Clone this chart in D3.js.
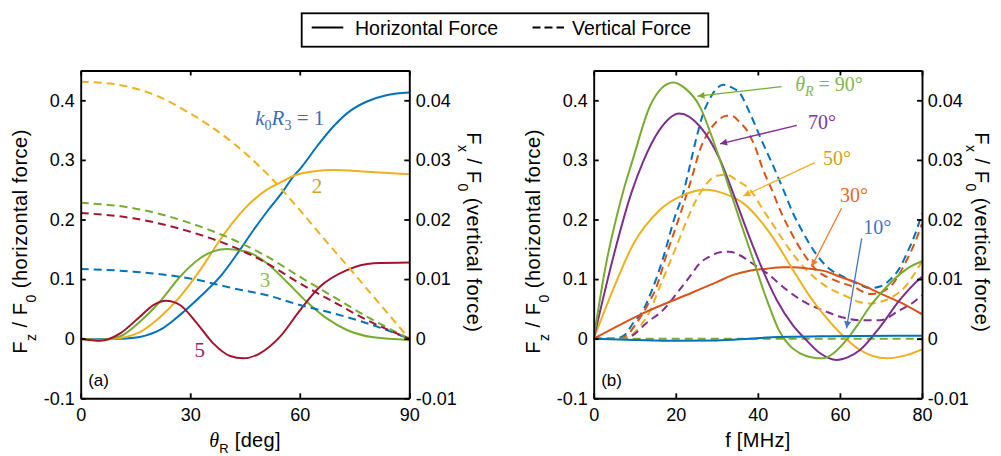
<!DOCTYPE html>
<html>
<head>
<meta charset="utf-8">
<script src="https://cdn.jsdelivr.net/npm/d3@7"></script>
<style>
  body { margin: 0; background: #fff; }
  svg { display: block; }
</style>
</head>
<body>
<svg id="fig" width="1001" height="456"></svg>
<script>
// ---------------- axis ticks ----------------
const angleTicks = [0, 30, 60, 90];
const freqTicks  = [0, 20, 40, 60, 80];
const horizTicks = [-0.1, 0, 0.1, 0.2, 0.3, 0.4];
const vertTicks  = [-0.01, 0, 0.01, 0.02, 0.03, 0.04];

// ---------------- panel (a): versus receiver angle theta_R [deg] ----------------
// horizontal force F_z/F_0 (left axis), pairs [theta_R, value]
const hA_k1 = [[0,0],[5,-0.0008],[10.8,0],[16.2,0.003],[21.7,0.0146],[27.2,0.040],[32.7,0.0705],[38.2,0.104],[43.6,0.149],[47.3,0.182],[51,0.213],[55.5,0.248],[58.2,0.272],[60.1,0.285],[65,0.325],[69.2,0.356],[74,0.383],[78.4,0.398],[84,0.409],[90,0.413]];
const hA_k2 = [[0,0],[5.3,-0.002],[10.8,0.001],[16.2,0.011],[21.7,0.036],[27.2,0.0705],[32.7,0.115],[38.2,0.166],[41.8,0.196],[45.5,0.222],[51,0.250],[55,0.263],[58.2,0.273],[64,0.281],[69.2,0.283],[78.4,0.280],[90,0.276]];
const hA_k3 = [[0,0],[5.3,-0.002],[10.8,0.004],[16.2,0.0285],[21.7,0.062],[27.2,0.104],[32.7,0.135],[36.5,0.147],[40,0.1505],[45.5,0.146],[51,0.1265],[56.4,0.0956],[61.9,0.062],[67.4,0.034],[72.9,0.0146],[80.2,0.0023],[90,-0.002]];
const hA_k5 = [[0,0],[5.3,-0.0034],[10.8,0.009],[16.2,0.037],[19.9,0.0565],[23.4,0.0638],[27.2,0.0565],[31.8,0.026],[36.3,-0.0078],[40.9,-0.029],[44.5,-0.033],[49.1,-0.0245],[54.6,0.0034],[60.1,0.048],[65.5,0.087],[72.9,0.115],[80.2,0.1265],[90,0.128]];
// vertical force F_x/F_0 (right axis), pairs [theta_R, value]
const vA_k1 = [[0,0.0117],[14.4,0.01125],[30,0.0101],[41.8,0.00845],[51,0.0073],[60,0.00565],[69.2,0.00426],[78.4,0.0026],[90,0]];
const vA_k2 = [[0,0.0431],[8,0.0428],[19,0.0412],[30,0.0378],[41.8,0.0328],[51,0.0277],[60,0.0216],[67,0.0165],[74.2,0.0114],[80,0.0072],[85,0.0036],[90,0]];
const vA_k3 = [[0,0.0228],[14.4,0.0219],[30,0.0194],[41.8,0.0166],[51,0.0138],[60,0.0104],[69.2,0.00705],[78.4,0.0037],[90,0]];
const vA_k5 = [[0,0.0211],[14.4,0.0202],[30,0.01795],[41.8,0.0154],[51,0.01265],[60,0.0093],[69.2,0.0062],[78.4,0.00314],[90,0]];

// ---------------- panel (b): versus frequency f [MHz] ----------------
// horizontal force F_z/F_0 (left axis), pairs [f, value]
const hB_10 = [[0,0],[10,-0.002],[20,-0.0035],[30,-0.003],[38,0],[45,0.003],[55,0.004],[65,0.0045],[80,0.005]];
const hB_30 = [[0,0],[12,0.0426],[24.2,0.078],[30,0.095],[34,0.107],[38,0.114],[42.2,0.1175],[46,0.120],[48.6,0.120],[52,0.118],[56.8,0.1125],[60,0.104],[64.1,0.094],[69.8,0.076],[75,0.060],[80,0.041]];
const hB_50 = [[0,0],[4.7,0.082],[9.6,0.158],[16.1,0.216],[21.8,0.241],[27.4,0.250],[32,0.243],[36.5,0.227],[40.5,0.199],[44.6,0.160],[48.6,0.115],[52.7,0.0705],[55.5,0.045],[60,0.010],[64.9,-0.019],[68,-0.029],[71.4,-0.033],[76,-0.028],[80,-0.018]];
const hB_70 = [[0,0],[4.7,0.135],[9.2,0.245],[12.1,0.298],[16,0.350],[20.9,0.378],[25.9,0.356],[30.8,0.300],[34,0.244],[37.3,0.182],[40.5,0.1265],[44.6,0.065],[48.6,0.022],[51.5,0],[55.1,-0.024],[59.2,-0.0357],[62,-0.031],[64.9,-0.019],[69.8,0.020],[74.6,0.065],[79.5,0.101],[80,0.104]];
const hB_90 = [[0,0],[3,0.125],[5.6,0.205],[7.1,0.245],[9.5,0.300],[13.7,0.390],[16.5,0.420],[19.4,0.430],[22.3,0.420],[25.9,0.389],[29.1,0.333],[32.4,0.266],[35.6,0.199],[38.9,0.132],[42.2,0.065],[45.3,0.012],[47.8,-0.012],[50.3,-0.0245],[53,-0.031],[55.9,-0.033],[58.5,-0.024],[61.6,-0.002],[64.5,0.025],[67.3,0.054],[70.2,0.078],[73,0.0985],[76.5,0.118],[80,0.130]];
// vertical force F_x/F_0 (right axis), pairs [f, value]
const vB_10 = [[0,0],[5,0],[7.5,0.0006],[9.6,0.0026],[12,0.0047],[14.4,0.0085],[16.9,0.0135],[19.8,0.0205],[21.8,0.0244],[23.5,0.0292],[25.1,0.0339],[26.7,0.0378],[28.5,0.0405],[30,0.0420],[31.6,0.0426],[33.5,0.0422],[35.6,0.0412],[38.1,0.0378],[40.9,0.0333],[43.8,0.0289],[46.2,0.0250],[48.6,0.0210],[51.1,0.0177],[53.5,0.0149],[56.8,0.0121],[60.8,0.0104],[64.1,0.0093],[67.3,0.0085],[70,0.0088],[72.2,0.0099],[74.5,0.0118],[76.3,0.0143],[78.3,0.0175],[80,0.0210]];
const vB_30 = [[0,0],[6,0],[8,0.0005],[10.4,0.0026],[13,0.0055],[15.3,0.0087],[17.7,0.0140],[20.9,0.0205],[23.9,0.0270],[25.9,0.0317],[28.3,0.0350],[30.4,0.0367],[32.4,0.0374],[34,0.0373],[35.7,0.0362],[37.3,0.0350],[39.3,0.0322],[41.3,0.0283],[43.4,0.0250],[45.8,0.0210],[48.2,0.0177],[51.1,0.0143],[54.3,0.0115],[58.4,0.0099],[63.3,0.0087],[67.3,0.0075],[70,0.0078],[73,0.0093],[76.3,0.0132],[78.5,0.0165],[80,0.0193]];
const vB_50 = [[0,0],[7,0],[9,0.0005],[11.2,0.0020],[13.6,0.0045],[16.1,0.0087],[20.1,0.0154],[24.2,0.0222],[26,0.0245],[28.3,0.0266],[30.4,0.0274],[32.4,0.0275],[35,0.0265],[38.1,0.0250],[41.3,0.0216],[44.6,0.0182],[47.8,0.0149],[51.9,0.0115],[56.8,0.0087],[61.6,0.0071],[64.5,0.0062],[67.3,0.0059],[70,0.0062],[73,0.0071],[76,0.0088],[78.7,0.0115],[80,0.0130]];
const vB_70 = [[0,0],[8,0],[9.6,0.0006],[12.8,0.0026],[16.9,0.0048],[20.9,0.0082],[23.5,0.0105],[25.9,0.0127],[28.3,0.0138],[30.8,0.0145],[33,0.0146],[35.6,0.0140],[38.5,0.0127],[42.2,0.0110],[47,0.0082],[51,0.0063],[56.8,0.0045],[60.5,0.0036],[64.9,0.0031],[69.8,0.0031],[74.6,0.0048],[77.5,0.0059],[80,0.0073]];
const vB_90 = [[0,0],[80,0]];

// MATLAB-style line colours
const C = { blue: "#0072BD", orange: "#D95319", yellow: "#EDB120", purple: "#7E2F8E", green: "#77AC30", red: "#A2142F" };

const SANS  = "'Liberation Sans', Arial, Helvetica, sans-serif";
const SERIF = "'Liberation Serif', 'Times New Roman', serif";
const DASH  = "8,5";

const svg = d3.select("#fig");

// ---------------- legend ----------------
const legend = svg.append("g");
legend.append("rect")
  .attr("x", 301.7).attr("y", 13.3).attr("width", 406.6).attr("height", 33.4)
  .attr("fill", "#fff").attr("stroke", "#000").attr("stroke-width", 1.8);
legend.append("line").attr("x1", 311.7).attr("x2", 343.3).attr("y1", 27.5).attr("y2", 27.5)
  .attr("stroke", "#000").attr("stroke-width", 2.2);
legend.append("text").attr("x", 355).attr("y", 34.5).text("Horizontal Force")
  .attr("font-family", SANS).attr("font-size", 19.5).attr("fill", "#000");
legend.append("line").attr("x1", 532.5).attr("x2", 564).attr("y1", 27.5).attr("y2", 27.5)
  .attr("stroke", "#000").attr("stroke-width", 2.2).attr("stroke-dasharray", "8,4");
legend.append("text").attr("x", 572).attr("y", 34.5).text("Vertical Force")
  .attr("font-family", SANS).attr("font-size", 19.5).attr("fill", "#000");

// ---------------- panel builder ----------------
function buildPanel(cfg) {
  const g = svg.append("g");
  const x  = d3.scaleLinear().domain(cfg.xDomain).range([cfg.left, cfg.right]);
  const yL = d3.scaleLinear().domain([-0.1, 0.45]).range([cfg.bottom, cfg.top]);
  const yR = d3.scaleLinear().domain([-0.01, 0.045]).range([cfg.bottom, cfg.top]);

  const clipId = "clip-" + cfg.id;
  g.append("clipPath").attr("id", clipId).append("rect")
    .attr("x", cfg.left).attr("y", cfg.top)
    .attr("width", cfg.right - cfg.left).attr("height", cfg.bottom - cfg.top);

  const plot = g.append("g").attr("clip-path", `url(#${clipId})`);
  const lineL = d3.line().x(d => x(d[0])).y(d => yL(d[1])).curve(d3.curveMonotoneX);
  const lineR = d3.line().x(d => x(d[0])).y(d => yR(d[1])).curve(d3.curveMonotoneX);

  cfg.series.forEach(s => {
    plot.append("path").datum(s.data)
      .attr("d", s.axis === "R" ? lineR : lineL)
      .attr("fill", "none").attr("stroke", s.color).attr("stroke-width", 2)
      .attr("stroke-linejoin", "round")
      .attr("stroke-dasharray", s.dashed ? DASH : null);
  });

  const fmt = d => String(d);
  const styleAxis = sel => {
    sel.select(".domain").attr("stroke", "#000").attr("stroke-width", 1.9);
    sel.selectAll(".tick line").attr("stroke", "#000").attr("stroke-width", 1.8);
    sel.selectAll(".tick text").attr("font-family", SANS).attr("font-size", 18).attr("fill", "#000");
  };

  g.append("g").attr("transform", `translate(0,${cfg.bottom})`)
    .call(d3.axisBottom(x).tickValues(cfg.xTicks).tickSizeInner(-5).tickSizeOuter(0).tickPadding(10).tickFormat(fmt))
    .call(styleAxis);
  g.append("g").attr("transform", `translate(0,${cfg.top})`)
    .call(d3.axisTop(x).tickValues(cfg.xTicks).tickSizeInner(-5).tickSizeOuter(0).tickFormat(""))
    .call(styleAxis);
  g.append("g").attr("transform", `translate(${cfg.left},0)`)
    .call(d3.axisLeft(yL).tickValues(horizTicks).tickSizeInner(-5).tickSizeOuter(0).tickPadding(6).tickFormat(fmt))
    .call(styleAxis);
  g.append("g").attr("transform", `translate(${cfg.right},0)`)
    .call(d3.axisRight(yR).tickValues(vertTicks).tickSizeInner(-5).tickSizeOuter(0).tickPadding(cfg.rightPad).tickFormat(fmt))
    .call(styleAxis);

  // panel tag
  g.append("text").attr("x", cfg.left + 7.5).attr("y", cfg.bottom - 12)
    .attr("font-family", SANS).attr("font-size", 17).attr("fill", "#000").text(cfg.tag);

  // left axis title: F_z / F_0 (horizontal force)
  const tl = g.append("text")
    .attr("transform", `translate(${cfg.left - 54},${(cfg.top + cfg.bottom) / 2 + 7}) rotate(-90)`)
    .attr("text-anchor", "middle").attr("font-family", SANS).attr("font-size", 20)
    .attr("letter-spacing", 0.5).attr("fill", "#000");
  tl.append("tspan").text("F");
  tl.append("tspan").attr("font-size", 14).attr("dy", 9).text("z");
  tl.append("tspan").attr("dy", -9).text(" / F");
  tl.append("tspan").attr("font-size", 14).attr("dy", 9).text("0");
  tl.append("tspan").attr("dy", -9).text(" (horizontal force)");

  // right axis title: F_x / F_0 (vertical force)
  const tr = g.append("text")
    .attr("transform", `translate(${cfg.right + cfg.rightTitle},${(cfg.top + cfg.bottom) / 2 - 2}) rotate(90)`)
    .attr("text-anchor", "middle").attr("font-family", SANS).attr("font-size", 20)
    .attr("letter-spacing", 0.5).attr("fill", "#000");
  tr.append("tspan").text("F");
  tr.append("tspan").attr("font-size", 14).attr("dy", 9).text("x");
  tr.append("tspan").attr("dy", -9).text(" / F");
  tr.append("tspan").attr("font-size", 14).attr("dy", 9).text("0");
  tr.append("tspan").attr("dy", -9).text(" (vertical force)");

  // x axis title
  const tx = g.append("text").attr("x", (cfg.left + cfg.right) / 2).attr("y", 447)
    .attr("text-anchor", "middle").attr("font-family", SANS).attr("font-size", 20)
    .attr("letter-spacing", 0.3).attr("fill", "#000");
  cfg.xTitle(tx);

  return { g, x, yL, yR };
}

// ---------------- panel (a) ----------------
const A = buildPanel({
  id: "a", tag: "(a)",
  left: 80.7, right: 409.3, top: 70.5, bottom: 398.3,
  xDomain: [0, 90], xTicks: angleTicks, rightPad: 6.5, rightTitle: 57.5,
  xTitle: t => {
    t.append("tspan").attr("font-family", SERIF).attr("font-style", "italic").text("θ");
    t.append("tspan").attr("font-size", 13).attr("dy", 6).text("R");
    t.append("tspan").attr("dy", -6).text(" [deg]");
  },
  series: [
    { data: hA_k1, color: C.blue },
    { data: hA_k2, color: C.yellow },
    { data: hA_k3, color: C.green },
    { data: hA_k5, color: C.red },
    { data: vA_k1, color: C.blue,   axis: "R", dashed: true },
    { data: vA_k2, color: C.yellow, axis: "R", dashed: true },
    { data: vA_k3, color: C.green,  axis: "R", dashed: true },
    { data: vA_k5, color: C.red,    axis: "R", dashed: true }
  ]
});

// ---------------- panel (b) ----------------
const B = buildPanel({
  id: "b", tag: "(b)",
  left: 593.7, right: 922, top: 70.5, bottom: 398.3,
  xDomain: [0, 80], xTicks: freqTicks, rightPad: 5.7, rightTitle: 53,
  xTitle: t => t.text("f [MHz]"),
  series: [
    { data: vB_10, color: C.blue,   axis: "R", dashed: true },
    { data: vB_30, color: C.orange, axis: "R", dashed: true },
    { data: vB_50, color: C.yellow, axis: "R", dashed: true },
    { data: vB_70, color: C.purple, axis: "R", dashed: true },
    { data: vB_90, color: C.green,  axis: "R", dashed: true },
    { data: hB_30, color: C.orange },
    { data: hB_50, color: C.yellow },
    { data: hB_70, color: C.purple },
    { data: hB_90, color: C.green },
    { data: hB_10, color: C.blue }
  ]
});

// ---------------- annotations, panel (a) ----------------
function label(P, pos, anchor, color, size, build) {
  const t = P.g.append("text").attr("x", P.x(pos[0])).attr("y", P.yL(pos[1]))
    .attr("text-anchor", anchor).attr("font-family", SERIF).attr("font-size", size).attr("fill", color);
  build(t);
  return t;
}
label(A, [47.8, 0.3586], "start", "#3F6DB5", 21, t => {
  t.append("tspan").attr("font-style", "italic").text("k");
  t.append("tspan").attr("font-size", 14).attr("dy", 5).text("0");
  t.append("tspan").attr("font-style", "italic").attr("dy", -5).text("R");
  t.append("tspan").attr("font-size", 14).attr("dy", 5).text("3");
  t.append("tspan").attr("dy", -5).text(" = 1");
});
label(A, [64.7, 0.2445], "middle", "#D6A020", 21, t => t.text("2"));
label(A, [50.5, 0.0872], "middle", "#8BBE4E", 21, t => t.text("3"));
label(A, [32.6, -0.0300], "middle", "#A0205F", 21, t => t.text("5"));

// ---------------- annotations, panel (b) ----------------
const defs = svg.append("defs");
function arrowMarker(id, color) {
  defs.append("marker").attr("id", id)
    .attr("viewBox", "0 0 10 10").attr("refX", 10).attr("refY", 5)
    .attr("markerWidth", 9).attr("markerHeight", 7).attr("markerUnits", "userSpaceOnUse")
    .attr("orient", "auto")
    .append("path").attr("d", "M0,0 L10,5 L0,10 Z").attr("fill", color);
}
const arrows = [
  { from: [45.8, 0.4228], to: [25.3, 0.407],  color: "#77AC30", text: [49.1, 0.4156], lab: "90°", theta: true, lc: "#82B752" },
  { from: [49.5, 0.358],  to: [30.8, 0.327],  color: "#7E2F8E", text: [52.2, 0.3518], lab: "70°", lc: "#7E38A0" },
  { from: [53.9, 0.2953], to: [36.45, 0.2394], color: "#EDB120", text: [55.9, 0.2914], lab: "50°", lc: "#D4A020" },
  { from: [60.4, 0.2188], to: [53.1, 0.121],  color: "#ED7D31", text: [60.0, 0.2299], lab: "30°", lc: "#DD6A2A" },
  { from: [65.3, 0.1685], to: [61.6, 0.0174], color: "#4472C4", text: [65.7, 0.1752], lab: "10°", lc: "#4472C4" }
];
arrows.forEach((a, i) => {
  const id = "arrow" + i;
  arrowMarker(id, a.color);
  B.g.append("line")
    .attr("x1", B.x(a.from[0])).attr("y1", B.yL(a.from[1]))
    .attr("x2", B.x(a.to[0])).attr("y2", B.yL(a.to[1]))
    .attr("stroke", a.color).attr("stroke-width", 1.3)
    .attr("marker-end", `url(#${id})`);
  label(B, a.text, "start", a.lc, 20, t => {
    if (a.theta) {
      t.append("tspan").attr("font-style", "italic").text("θ");
      t.append("tspan").attr("font-style", "italic").attr("font-size", 14).attr("dy", 5).text("R");
      t.append("tspan").attr("dy", -5).text(" = " + a.lab);
    } else {
      t.text(a.lab);
    }
  });
});
</script>
</body>
</html>
